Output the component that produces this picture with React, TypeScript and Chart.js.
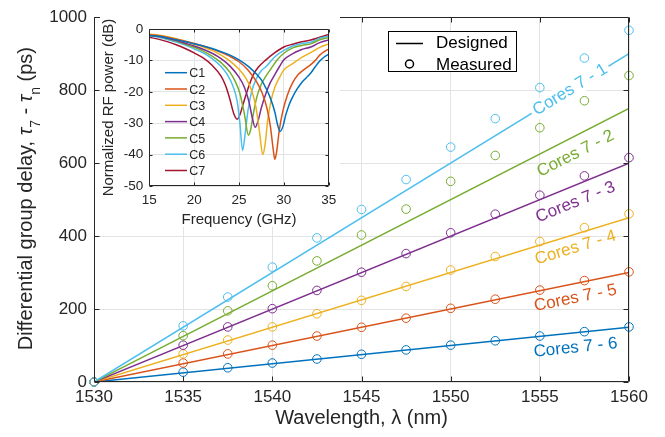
import React, { useEffect, useRef } from "react";
import { Chart, registerables } from "chart.js";

Chart.register(...registerables);

const FONT = '"Liberation Sans", Arial, Helvetica, sans-serif';
const TEXT = "#262626";
const GRID = "#e3e3e3";

// ---------- main chart data ----------
const wavelengths = [1530, 1535, 1537.5, 1540, 1542.5, 1545, 1547.5, 1550, 1552.5, 1555, 1557.5, 1560];
const measured71 = [0, 154, 233, 315, 395, 473, 555, 644, 722, 807, 888, 964];
const measured72 = [0, 127, 195, 264, 332, 403, 474, 550, 621, 697, 771, 840];
const measured73 = [0, 101, 151, 201, 251, 301, 352, 409, 460, 512, 565, 615];
const measured74 = [0, 77, 115, 151, 187, 224, 262, 307, 344, 385, 423, 461];
const measured75 = [0, 52, 77, 101, 126, 150, 175, 202, 227, 252, 278, 302];
const measured76 = [0, 27, 39, 52, 63, 76, 88, 101, 113, 126, 138, 151];

const designedWavelengths = [1530, 1560];
const designed71 = [0, 900];
const designed72 = [0, 750];
const designed73 = [0, 600];
const designed74 = [0, 450];
const designed75 = [0, 300];
const designed76 = [0, 150];

const coreLabels = ["Cores 7 - 1", "Cores 7 - 2", "Cores 7 - 3", "Cores 7 - 4", "Cores 7 - 5", "Cores 7 - 6"];
const coreColors = ["#4DBEEE", "#77AC30", "#7E2F8E", "#EDB120", "#D95319", "#0072BD"];
// where each rotated text label sits (data coordinates)
const labelWavelength = [1556.7, 1557, 1557, 1557, 1557, 1557];
const labelDelay = [801, 626, 493, 368, 230, 94];

const xTicksMain = [1530, 1535, 1540, 1545, 1550, 1555, 1560];
const yTicksMain = [0, 200, 400, 600, 800, 1000];

// ---------- inset data (frequency GHz, normalized RF power dB) ----------
const insetC1 = [[15,-2.0],[16,-2.3],[17,-2.8],[18,-3.4],[19,-4.0],[20,-4.7],[21,-5.4],[22,-6.2],[23,-7.2],[24,-8.3],[25,-9.8],[26,-11.8],[27,-14.5],[27.5,-16.2],[28,-18.8],[28.5,-22],[29,-26.5],[29.3,-30.5],[29.57,-32.6],[29.9,-31],[30.2,-27.5],[30.6,-24],[31,-21.5],[31.5,-19],[32,-17],[32.5,-15.5],[33,-14],[33.5,-12],[34,-10.2],[34.5,-8.9],[35,-8.0]];
const insetC2 = [[15,-1.8],[16,-2.1],[17,-2.6],[18,-3.2],[19,-3.9],[20,-4.6],[21,-5.4],[22,-6.3],[23,-7.4],[24,-8.7],[25,-10.4],[26,-13],[27,-17],[27.6,-20.5],[28.1,-25],[28.5,-31],[28.8,-38],[29.0,-41.5],[29.2,-39],[29.5,-32],[29.9,-26],[30.4,-21],[31,-17],[31.6,-14.5],[32.2,-13],[33,-11.3],[33.5,-10],[34,-8.3],[34.5,-7.2],[35,-6.3]];
const insetC3 = [[15,-1.6],[16,-1.9],[17,-2.4],[18,-3.1],[19,-3.9],[20,-4.8],[21,-5.7],[22,-6.8],[23,-8.3],[24,-10.2],[25,-12.8],[25.8,-15.8],[26.4,-19.5],[26.9,-25],[27.3,-33],[27.64,-40],[27.9,-37],[28.2,-29],[28.6,-22.5],[29,-18.5],[29.5,-15.5],[30,-13],[31,-11],[32,-9],[33,-7.5],[34,-5.8],[35,-4.7]];
const insetC4 = [[15,-1.9],[16,-2.3],[17,-2.9],[18,-3.6],[19,-4.5],[20,-5.4],[21,-6.4],[22,-7.7],[23,-9.4],[24,-11.8],[25,-15.3],[25.6,-18.5],[26.1,-23],[26.5,-28.5],[26.8,-31.3],[27.1,-29.5],[27.5,-25],[28,-20.5],[28.5,-17],[29,-14.5],[29.5,-12],[30,-9.8],[31,-7.8],[32,-6.5],[33,-5.7],[34,-4.3],[35,-3.5]];
const insetC5 = [[15,-2.0],[16,-2.4],[17,-3.0],[18,-3.8],[19,-4.8],[20,-5.8],[21,-7.0],[22,-8.6],[23,-10.7],[24,-13.8],[24.6,-16.8],[25.1,-20.5],[25.6,-27],[26.05,-33.8],[26.3,-32],[26.6,-27],[27,-21.5],[27.5,-17.5],[28,-15],[28.6,-12.5],[29.2,-10],[30,-7.7],[31,-6],[32,-5.2],[33,-4.7],[34,-3.4],[35,-2.7]];
const insetC6 = [[15,-2.1],[16,-2.6],[17,-3.3],[18,-4.1],[19,-5.1],[20,-6.3],[21,-7.6],[22,-9.4],[23,-11.9],[23.7,-14.5],[24.3,-18],[24.8,-23],[25.1,-30],[25.4,-38.7],[25.7,-33],[26,-26],[26.4,-20],[26.9,-16],[27.5,-13.2],[28,-12],[29,-8.8],[30,-6.8],[31,-5.4],[32,-4.6],[33,-4.2],[34,-2.9],[35,-2.2]];
const insetC7 = [[15,-2.6],[16,-3.2],[17,-4.0],[18,-5.0],[19,-6.2],[20,-7.6],[21,-9.2],[22,-11.5],[23,-15],[23.5,-18],[24,-22.5],[24.4,-26.8],[24.8,-28.7],[25.1,-27.3],[25.5,-23.5],[26,-19],[26.6,-14.5],[27.2,-12],[28,-9.8],[29,-7.5],[30,-5.7],[31,-4.8],[32,-4],[33,-3.5],[34,-2.6],[35,-1.7]];

const insetNames = ["C1", "C2", "C3", "C4", "C5", "C6", "C7"];
const insetColors = ["#0072BD", "#D95319", "#EDB120", "#7E2F8E", "#77AC30", "#4DBEEE", "#A2142F"];
const xTicksInset = [15, 20, 25, 30, 35];
const yTicksInset = [-50, -40, -30, -20, -10, 0];

const measuredSeries = [measured71, measured72, measured73, measured74, measured75, measured76];
const designedSeries = [designed71, designed72, designed73, designed74, designed75, designed76];
const insetSeries = [insetC1, insetC2, insetC3, insetC4, insetC5, insetC6, insetC7];

function drawBoxAndTicks(chart: any, xTicks: number[], yTicks: number[], len: number) {
  const { ctx, chartArea } = chart;
  const xs = chart.scales.x;
  const ys = chart.scales.y;
  const l = Math.round(chartArea.left) + 0.5;
  const r = Math.round(chartArea.right) - 0.5;
  const t = Math.round(chartArea.top) + 0.5;
  const b = Math.round(chartArea.bottom) - 0.5;
  ctx.save();
  ctx.strokeStyle = TEXT;
  ctx.lineWidth = 1;
  ctx.beginPath();
  ctx.rect(l, t, r - l, b - t);
  xTicks.forEach((v) => {
    const px = Math.round(xs.getPixelForValue(v)) + 0.5;
    ctx.moveTo(px, b);
    ctx.lineTo(px, b - len);
    ctx.moveTo(px, t);
    ctx.lineTo(px, t + len);
  });
  yTicks.forEach((v) => {
    const py = Math.round(ys.getPixelForValue(v)) + 0.5;
    ctx.moveTo(l, py);
    ctx.lineTo(l + len, py);
    ctx.moveTo(r, py);
    ctx.lineTo(r - len, py);
  });
  ctx.stroke();
  ctx.restore();
}

const mainDecor = {
  id: "mainDecor",
  afterDatasetsDraw(chart: any) {
    const { ctx, chartArea } = chart;
    const xs = chart.scales.x;
    const ys = chart.scales.y;
    // rotated core labels
    coreLabels.forEach((txt, i) => {
      const x0 = xs.getPixelForValue(designedWavelengths[0]);
      const y0 = ys.getPixelForValue(designedSeries[i][0]);
      const x1 = xs.getPixelForValue(designedWavelengths[1]);
      const y1 = ys.getPixelForValue(designedSeries[i][1]);
      const ang = Math.atan2(y1 - y0, x1 - x0);
      const cx = xs.getPixelForValue(labelWavelength[i]);
      const cy = ys.getPixelForValue(labelDelay[i]);
      ctx.save();
      ctx.translate(cx, cy);
      ctx.rotate(ang);
      ctx.font = `17px ${FONT}`;
      if (i === 0) {
        const w = ctx.measureText(txt).width;
        ctx.fillStyle = "#ffffff";
        ctx.fillRect(-w / 2 - 3, -9, w + 6, 18);
      }
      ctx.fillStyle = coreColors[i];
      ctx.textAlign = "center";
      ctx.textBaseline = "middle";
      ctx.fillText(txt, 0, 0);
      ctx.restore();
    });

    drawBoxAndTicks(chart, xTicksMain, yTicksMain, 5);

    // legend
    ctx.save();
    ctx.fillStyle = "#ffffff";
    ctx.fillRect(388, 31, 129, 41);
    ctx.strokeStyle = "#000";
    ctx.lineWidth = 1;
    ctx.strokeRect(388.5, 31.5, 128, 40);
    ctx.lineWidth = 1.5;
    ctx.beginPath();
    ctx.moveTo(396, 43.5);
    ctx.lineTo(423, 43.5);
    ctx.stroke();
    ctx.beginPath();
    ctx.arc(409.5, 64, 4, 0, Math.PI * 2);
    ctx.stroke();
    ctx.fillStyle = "#000";
    ctx.font = `17px ${FONT}`;
    ctx.textAlign = "left";
    ctx.textBaseline = "alphabetic";
    ctx.fillText("Designed", 436, 48);
    ctx.fillText("Measured", 436, 69.5);
    ctx.restore();

    // y-axis title with subscripts
    const size = 20;
    const parts = [
      { t: "Differential group delay, ", f: `${size}px ${FONT}`, dy: 0 },
      { t: "\u03C4", f: `italic ${size}px ${FONT}`, dy: 0 },
      { t: "7", f: `14px ${FONT}`, dy: 8 },
      { t: " - ", f: `${size}px ${FONT}`, dy: 0 },
      { t: "\u03C4", f: `italic ${size}px ${FONT}`, dy: 0 },
      { t: "n", f: `14px ${FONT}`, dy: 8 },
      { t: " (ps)", f: `${size}px ${FONT}`, dy: 0 },
    ];
    ctx.save();
    let total = 0;
    const widths = parts.map((p) => {
      ctx.font = p.f;
      const w = ctx.measureText(p.t).width;
      total += w;
      return w;
    });
    const cy = (chartArea.top + chartArea.bottom) / 2 - 1;
    ctx.translate(31.5, cy);
    ctx.rotate(-Math.PI / 2);
    ctx.fillStyle = TEXT;
    ctx.textAlign = "left";
    ctx.textBaseline = "alphabetic";
    let x = -total / 2;
    parts.forEach((p, i) => {
      ctx.font = p.f;
      ctx.fillText(p.t, x, p.dy);
      x += widths[i];
    });
    ctx.restore();
  },
};

const insetDecor = {
  id: "insetDecor",
  beforeDraw(chart: any) {
    const { ctx } = chart;
    ctx.save();
    ctx.fillStyle = "#ffffff";
    ctx.fillRect(0, 0, 240, 212);
    ctx.restore();
  },
  afterDatasetsDraw(chart: any) {
    const { ctx } = chart;
    drawBoxAndTicks(chart, xTicksInset, yTicksInset, 3);
    ctx.save();
    ctx.font = `12.5px ${FONT}`;
    ctx.textAlign = "left";
    ctx.textBaseline = "alphabetic";
    insetNames.forEach((name, i) => {
      const y = 57.7 + 16.3 * i;
      ctx.strokeStyle = insetColors[i];
      ctx.lineWidth = 1.5;
      ctx.beginPath();
      ctx.moveTo(65, y);
      ctx.lineTo(87, y);
      ctx.stroke();
      ctx.fillStyle = TEXT;
      ctx.fillText(name, 89.3, y + 4.6);
    });
    ctx.restore();
  },
};

export default function App() {
  const mainRef = useRef<HTMLCanvasElement>(null);
  const insetRef = useRef<HTMLCanvasElement>(null);

  useEffect(() => {
    const datasets: any[] = [];
    designedSeries.forEach((d, i) => {
      datasets.push({
        label: coreLabels[i] + " designed",
        data: designedWavelengths.map((w, k) => ({ x: w, y: d[k] })),
        borderColor: coreColors[i],
        borderWidth: 1.5,
        pointRadius: 0,
        fill: false,
      });
    });
    measuredSeries.forEach((d, i) => {
      datasets.push({
        label: coreLabels[i] + " measured",
        data: wavelengths.map((w, k) => ({ x: w, y: d[k] })),
        borderColor: coreColors[i],
        backgroundColor: "rgba(0,0,0,0)",
        showLine: false,
        pointStyle: "circle",
        pointRadius: 4.3,
        pointBorderWidth: 1,
        pointBorderColor: coreColors[i],
        pointBackgroundColor: "rgba(0,0,0,0)",
        clip: false,
      });
    });

    const main = new Chart(mainRef.current as HTMLCanvasElement, {
      type: "line",
      data: { datasets },
      options: {
        responsive: false,
        animation: false,
        devicePixelRatio: 1,
        events: [],
        layout: { padding: { left: 0, top: 13, right: 36, bottom: 0 } },
        plugins: { legend: { display: false }, tooltip: { enabled: false } },
        scales: {
          x: {
            type: "linear",
            min: 1530,
            max: 1560,
            afterFit: (s: any) => {
              s.height = 55;
            },
            afterBuildTicks: (s: any) => {
              s.ticks = xTicksMain.map((v) => ({ value: v }));
            },
            ticks: {
              callback: (v: any) => String(v),
              font: { family: FONT, size: 17 },
              color: TEXT,
              padding: 5,
              maxRotation: 0,
              autoSkip: false,
            },
            grid: { color: GRID, drawTicks: false, lineWidth: 1 },
            border: { display: false },
            title: {
              display: true,
              text: "Wavelength, \u03BB (nm)",
              font: { family: FONT, size: 20 },
              color: TEXT,
              padding: { top: 0, bottom: 7 },
            },
          },
          y: {
            type: "linear",
            min: 0,
            max: 1000,
            afterFit: (s: any) => {
              s.width = 94;
            },
            afterBuildTicks: (s: any) => {
              s.ticks = yTicksMain.map((v) => ({ value: v }));
            },
            ticks: {
              callback: (v: any) => String(v),
              font: { family: FONT, size: 17 },
              color: TEXT,
              padding: 7,
            },
            grid: { color: GRID, drawTicks: false, lineWidth: 1 },
            border: { display: false },
          },
        },
      } as any,
      plugins: [mainDecor],
    });

    const inset = new Chart(insetRef.current as HTMLCanvasElement, {
      type: "line",
      data: {
        datasets: insetSeries.map((s, i) => ({
          label: insetNames[i],
          data: s.map((p) => ({ x: p[0], y: p[1] })),
          borderColor: insetColors[i],
          borderWidth: 1.5,
          pointRadius: 0,
          fill: false,
          cubicInterpolationMode: "monotone",
        })),
      },
      options: {
        responsive: false,
        animation: false,
        devicePixelRatio: 1,
        events: [],
        layout: { padding: { left: 0, top: 8.3, right: 17.3, bottom: 0 } },
        plugins: { legend: { display: false }, tooltip: { enabled: false } },
        scales: {
          x: {
            type: "linear",
            min: 15,
            max: 35,
            afterFit: (s: any) => {
              s.height = 44;
            },
            afterBuildTicks: (s: any) => {
              s.ticks = xTicksInset.map((v) => ({ value: v }));
            },
            ticks: {
              callback: (v: any) => String(v),
              font: { family: FONT, size: 13.5 },
              color: TEXT,
              padding: 6,
              maxRotation: 0,
              autoSkip: false,
            },
            grid: { color: GRID, drawTicks: false },
            border: { display: false },
            title: {
              display: true,
              text: "Frequency (GHz)",
              font: { family: FONT, size: 15 },
              color: TEXT,
              padding: { top: 0, bottom: 1 },
            },
          },
          y: {
            type: "linear",
            min: -50,
            max: 0,
            afterFit: (s: any) => {
              s.width = 49.3;
            },
            afterBuildTicks: (s: any) => {
              s.ticks = yTicksInset.map((v) => ({ value: v }));
            },
            ticks: {
              callback: (v: any) => String(v),
              font: { family: FONT, size: 13.5 },
              color: TEXT,
              padding: 6,
            },
            grid: { color: GRID, drawTicks: false },
            border: { display: false },
            title: {
              display: true,
              text: "Normalized RF power (dB)",
              font: { family: FONT, size: 15 },
              color: TEXT,
              padding: { top: 0, bottom: 0 },
            },
          },
        },
      } as any,
      plugins: [insetDecor],
    });

    return () => {
      main.destroy();
      inset.destroy();
    };
  }, []);

  return (
    <div style={{ position: "absolute", left: 0, top: 0, width: 665, height: 437, background: "#ffffff" }}>
      <canvas
        ref={mainRef}
        width={665}
        height={437}
        style={{ position: "absolute", left: 0, top: 0, width: 665, height: 437 }}
      />
      <canvas
        ref={insetRef}
        width={246}
        height={215}
        style={{ position: "absolute", left: 100, top: 15, width: 246, height: 215 }}
      />
    </div>
  );
}
